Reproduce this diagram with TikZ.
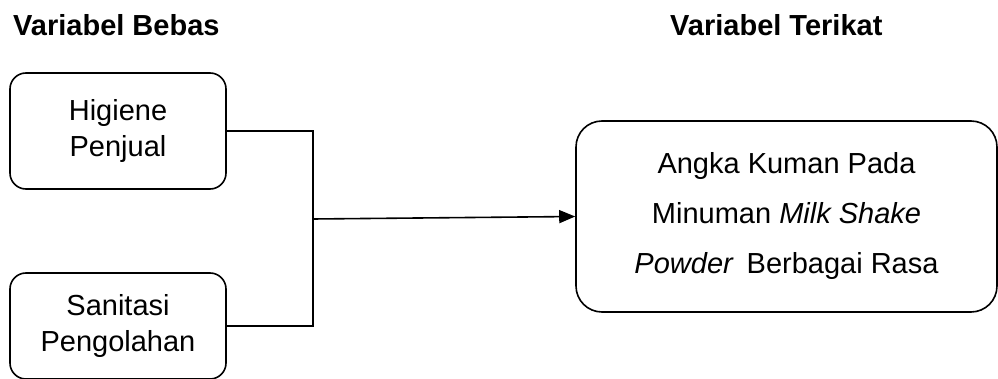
\documentclass[tikz,border=0pt]{standalone}
\usepackage{fontspec}
\setmainfont{Liberation Sans}
\usetikzlibrary{arrows.meta}
\begin{document}
\begin{tikzpicture}[x=1pt,y=-1pt,
  varbox/.style={draw, line width=1.6pt, rounded corners=16pt, align=center,
    inner sep=0pt, font=\fontsize{29}{36}\selectfont},
  bigbox/.style={draw, line width=1.6pt, rounded corners=26pt, align=center,
    inner sep=0pt, font=\fontsize{29}{50}\selectfont},
  heading/.style={anchor=base west, inner sep=0pt, font=\fontsize{29}{34}\selectfont\bfseries},
  link/.style={line width=1.6pt}]
\useasboundingbox (0,0) rectangle (998,379);

% column headings
\node[heading] (hbebas) at (13,36) {Variabel Bebas};
\node[heading] (hterikat) at (670,36) {Variabel Terikat};

% independent variables
\node[varbox, minimum width=216pt, minimum height=116pt] (hig) at (118,131)
  {Higiene\\Penjual};
\node[varbox, minimum width=216pt, minimum height=106pt] (san) at (118,326)
  {Sanitasi\\Pengolahan};

% dependent variable
\node[bigbox, minimum width=421pt, minimum height=191pt] (dep) at (786.5,216.5)
  {Angka Kuman Pada\\Minuman \textit{Milk Shake}\\\textit{Powder}\, Berbagai Rasa};

% bracket joining both inputs, then the arrow
\coordinate (j) at (313,219);
\draw[link] (hig.east) -| (j) |- (san.east);
\draw[link, -{Triangle[length=16pt,width=13pt]}] (j) -- (dep.west);
\end{tikzpicture}
\end{document}
